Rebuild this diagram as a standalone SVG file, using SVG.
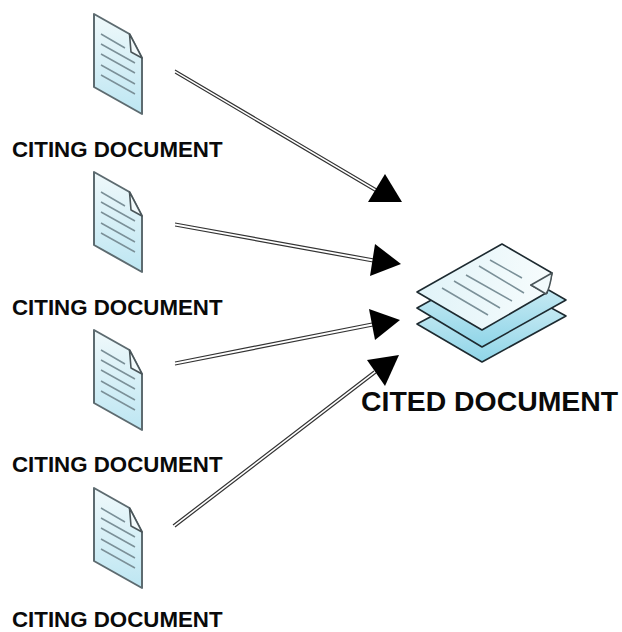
<svg xmlns="http://www.w3.org/2000/svg" width="622" height="632" viewBox="0 0 622 632">
<style>
.lbl{font-family:"Liberation Sans",Arial,sans-serif;font-weight:700;fill:#0a0a0a}
.small{font-size:22.3px}
.big{font-size:28.4px}
.edge{fill:none;stroke:#333;stroke-width:1.2}
.head{fill:#000}
.page{fill:url(#pg);stroke:#5d6b70;stroke-width:2;stroke-linejoin:round}
.fold{fill:#f2fafc;stroke:#4a5559;stroke-width:1.6;stroke-linejoin:round}
.rule{stroke:#7b9098;stroke-width:1.5;fill:none}
.sheet{stroke:#1d2a30;stroke-width:1.6;stroke-linejoin:round}
</style>
<defs>
<linearGradient id="pg" x1="0" y1="0" x2="0" y2="1"><stop offset="0" stop-color="#f0f9fb"/><stop offset="1" stop-color="#bde6f2"/></linearGradient>
<linearGradient id="s1" x1="0" y1="0" x2="1" y2="0"><stop offset="0" stop-color="#e0f3f8"/><stop offset="1" stop-color="#f7fcfd"/></linearGradient>
<linearGradient id="s2" x1="0" y1="0" x2="0" y2="1"><stop offset="0" stop-color="#e0f3f8"/><stop offset="1" stop-color="#8fd5e8"/></linearGradient>
<g id="doc">
<path class="page" d="M94 14L129.500 34L142 58V114L94 87Z"/>
<path class="fold" d="M129.500 34L131 52L142 58Z"/>
<path class="rule" d="M101 34L125 48M101 44L135 63M101 54L135 73M101 65L135 84M101 75L135 94"/>
</g>
</defs>
<g id="connectors">
<path class="edge" d="M175 70L380 191M175 73L378 193"/><path class="head" d="M385 174L368 202L402 202Z"/>
<path class="edge" d="M175 223L374 259M175 226L373 262"/><path class="head" d="M375 244L370 276L401 264Z"/>
<path class="edge" d="M175 362L372 323M175 365L373 326"/><path class="head" d="M369 309L375 340L400 320Z"/>
<path class="edge" d="M173 525L374 371M175 527L376 373"/><path class="head" d="M367 360L385 386L399 355Z"/>
</g>
<g id="citing-1"><use href="#doc"/><text class="lbl small" x="12" y="157">CITING DOCUMENT</text></g>
<g id="citing-2"><use href="#doc" y="158"/><text class="lbl small" x="12" y="314.500">CITING DOCUMENT</text></g>
<g id="citing-3"><use href="#doc" y="316"/><text class="lbl small" x="12" y="472">CITING DOCUMENT</text></g>
<g id="citing-4"><use href="#doc" y="474"/><text class="lbl small" x="12" y="627">CITING DOCUMENT</text></g>
<g id="cited">
<path class="sheet" fill="url(#s2)" d="M417 324L482 362L566 316L500 280Z"/>
<path class="sheet" fill="url(#s2)" d="M417 308L482 347L566 300L500 262Z"/>
<path class="sheet" fill="url(#s1)" d="M417 292L502 244L552 273L547 293L531 285L546 293L482 330Z"/>
<path class="fold" d="M552 273L531 285L546 294Q550 288 552 273Z"/>
<path class="rule" d="M490 260L522 278M479 266L524 293M466 275L512 301M454 281L500 308M442 288L488 315"/>
<text class="lbl big" x="361" y="410.500">CITED DOCUMENT</text>
</g>
</svg>
